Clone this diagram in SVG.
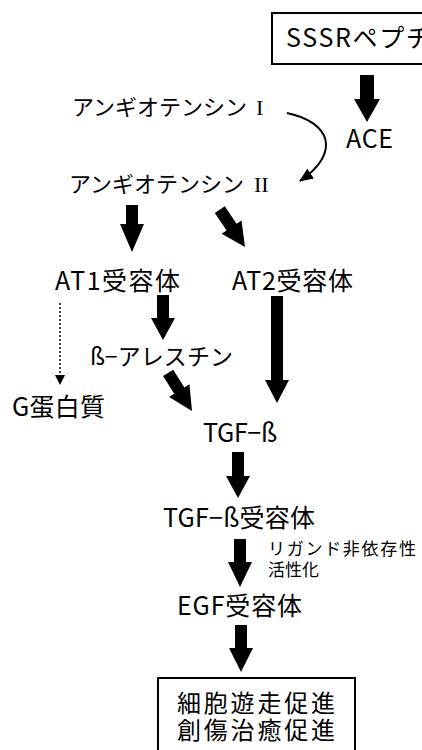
<svg xmlns="http://www.w3.org/2000/svg" width="422" height="750" viewBox="0 0 422 750">
<style>
text{font-family:"Noto Sans CJK JP","Liberation Sans",sans-serif;fill:#000}
.l{font-size:25px}
.m{font-size:22px}
.s{font-size:17px}
.b{font-size:24px}
.rom{font-family:"Liberation Serif",serif}
.box{fill:#fff;stroke:#000;stroke-width:2}
.blk{fill:#000}
.dot{stroke:#000;stroke-width:1.5;stroke-dasharray:2,2;fill:none}
.crv{stroke:#000;stroke-width:2;fill:none}
</style>
<defs>
<marker id="ah" markerUnits="userSpaceOnUse" viewBox="0 0 14 12" refX="13" refY="6" markerWidth="14" markerHeight="12" orient="auto">
<path d="M0,0 L14,6 L0,12 Z" fill="#000"/>
</marker>
</defs>
<rect width="422" height="750" fill="#fff"/>
<g id="connectors">
<polygon class="blk" points="360,75 374,75 374,99 380,99 367,122 354,99 360,99"/>
<path class="crv" d="M287,113 C330,122 342,152 300,181" marker-end="url(#ah)"/>
<polygon class="blk" points="126,205 138,205 138,224 144,224 132,252 120,224 126,224"/>
<polygon class="blk" transform="translate(245,247) rotate(-34)" points="-6,-45 6,-45 6,-24 12,-24 0,0 -12,-24 -6,-24"/>
<polygon class="blk" points="157,295 169,295 169,318 175,318 163,340 151,318 157,318"/>
<polygon class="blk" points="271,296 283,296 283,380 289,380 277,403 265,380 271,380"/>
<polygon class="blk" transform="translate(192,411) rotate(-32)" points="-6,-45 6,-45 6,-24 12,-24 0,0 -12,-24 -6,-24"/>
<line class="dot" x1="60" y1="303" x2="60" y2="376"/>
<polygon class="blk" points="55,375 65,375 60,385"/>
<polygon class="blk" points="232,452 244,452 244,476 250,476 238,498 226,476 232,476"/>
<polygon class="blk" points="234,539 246,539 246,562 252,562 240,587 228,562 234,562"/>
<polygon class="blk" points="235,625 247,625 247,648 253,648 241,672 229,648 235,648"/>
</g>
<g id="sssr">
<rect class="box" x="272" y="13" width="250" height="51"/>
<text class="l" x="286" y="47" textLength="145">SSSRペプチ</text>
</g>
<g id="ace"><text class="l" x="346" y="148" textLength="47">ACE</text></g>
<g id="ang1"><text class="m" x="72" y="115">アンギオテンシン</text><text class="m rom" x="256" y="115">I</text></g>
<g id="ang2"><text class="m" x="69" y="192">アンギオテンシン</text><text class="m rom" x="254" y="192">II</text></g>
<g id="at1"><text class="l" x="55" y="290" textLength="125">AT1受容体</text></g>
<g id="at2"><text class="l" x="232" y="290" textLength="121">AT2受容体</text></g>
<g id="barr"><text class="l" x="90" y="365" textLength="143" style="font-size:23px">ß−アレスチン</text></g>
<g id="gprot"><text class="l" x="12" y="416" textLength="93">G蛋白質</text></g>
<g id="tgfb"><text class="l" x="203" y="442" textLength="74">TGF−ß</text></g>
<g id="tgfbr"><text class="l" x="163" y="527" textLength="152">TGF−ß受容体</text></g>
<g id="lig"><text class="s" x="268" y="555" textLength="148">リガンド非依存性</text><text class="s" x="268" y="576">活性化</text></g>
<g id="egfr"><text class="l" x="177" y="615" textLength="125">EGF受容体</text></g>
<g id="result">
<rect class="box" x="158" y="678" width="197" height="80"/>
<text class="b" x="177" y="712" textLength="158">細胞遊走促進</text>
<text class="b" x="177" y="739" textLength="158">創傷治癒促進</text>
</g>
</svg>
